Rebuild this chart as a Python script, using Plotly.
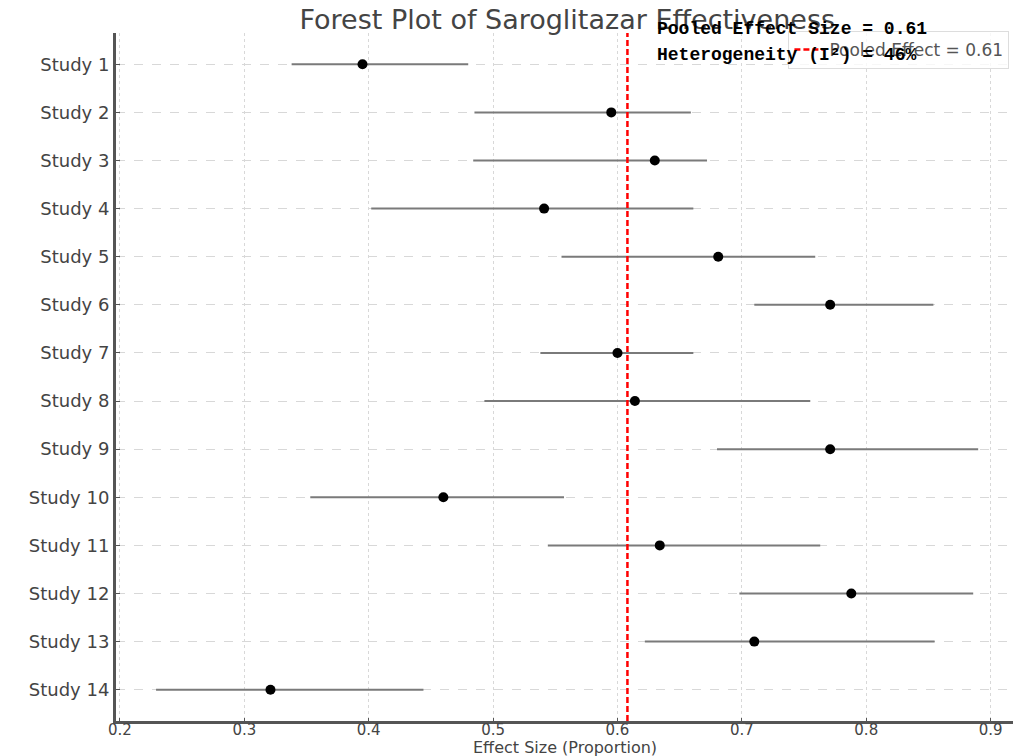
import plotly.graph_objects as go

studies = [f"Study {i}" for i in range(1, 15)]
effect = [0.395, 0.595, 0.630, 0.541, 0.681, 0.771, 0.600, 0.614, 0.771, 0.460, 0.634, 0.788, 0.710, 0.321]
ci_low = [0.338, 0.485, 0.484, 0.402, 0.555, 0.710, 0.538, 0.493, 0.680, 0.353, 0.544, 0.698, 0.622, 0.229]
ci_high = [0.480, 0.659, 0.672, 0.661, 0.759, 0.854, 0.661, 0.755, 0.890, 0.557, 0.763, 0.886, 0.855, 0.444]
pooled = 0.608
pooled_label = "0.61"
i2 = "46%"
x_ticks = [0.2, 0.3, 0.4, 0.5, 0.6, 0.7, 0.8, 0.9]

fig = go.Figure()
for s, lo, hi in zip(studies, ci_low, ci_high):
    fig.add_trace(go.Scatter(x=[lo, hi], y=[s, s], mode="lines",
                             line=dict(color="#7a7a7a", width=2), showlegend=False, hoverinfo="skip"))
fig.add_trace(go.Scatter(x=effect, y=studies, mode="markers",
                         marker=dict(color="black", size=10), showlegend=False))
fig.add_trace(go.Scatter(x=[pooled, pooled], y=[-0.65, 13.65], yaxis="y2", mode="lines",
                         line=dict(color="red", width=2.5, dash="6px,3px"),
                         name=f"Pooled Effect = {pooled_label}", showlegend=True))

fig.update_layout(
    width=1013, height=756,
    margin=dict(l=116, r=0, t=33, b=35),
    paper_bgcolor="white", plot_bgcolor="white",
    title=dict(text="Forest Plot of Saroglitazar Effectiveness", x=0.56, xanchor="center",
               y=0.9735, yanchor="middle", font=dict(family="DejaVu Sans", size=27, color="#444444")),
    xaxis=dict(range=[0.1968, 0.918], tickvals=x_ticks, ticktext=[f"{v:.1f}" for v in x_ticks],
               automargin=False,
               showgrid=True, gridcolor="#d8d8d8", griddash="dot", gridwidth=1,
               showline=True, linecolor="#555555", linewidth=2.5, mirror=False,
               ticks="inside", ticklen=3, tickcolor="#555555", ticklabelstandoff=-7,
               tickfont=dict(family="DejaVu Sans", size=15, color="#444444"),
               zeroline=False),
    yaxis=dict(categoryorder="array", categoryarray=studies, autorange=False, range=[13.65, -0.65],
               automargin=False,
               showgrid=True, gridcolor="#d8d8d8", griddash="dash", gridwidth=1,
               showline=True, linecolor="#555555", linewidth=3,
               ticks="inside", ticklen=4, tickcolor="#555555",
               tickfont=dict(family="DejaVu Sans", size=18, color="#444444"), zeroline=False),
    yaxis2=dict(overlaying="y", range=[-0.65, 13.65], visible=False, automargin=False),
    legend=dict(x=0.996, y=1.003, xanchor="right", yanchor="top", bgcolor="rgba(255,255,255,0.8)",
                bordercolor="#dddddd", borderwidth=1, tracegroupgap=0,
                font=dict(family="DejaVu Sans", size=17, color="#555555")),
)

fig.add_annotation(x=0.5, y=1 - (747 - 33) / 688, xref="paper", yref="paper", yanchor="middle",
                   xanchor="center", showarrow=False,
                   text="Effect Size (Proportion)",
                   font=dict(family="DejaVu Sans", size=16, color="#444444"))
fig.add_annotation(x=0.601, y=1.006, xref="paper", yref="paper", xanchor="left", yanchor="middle",
                   text=f"<b>Pooled Effect Size = {pooled_label}</b>", showarrow=False,
                   font=dict(family="Liberation Mono", size=18, color="black"))
fig.add_annotation(x=0.601, y=0.968, xref="paper", yref="paper", xanchor="left", yanchor="middle",
                   text=f"<b>Heterogeneity (I²) = {i2}</b>", showarrow=False,
                   font=dict(family="Liberation Mono", size=18, color="black"))

fig.write_html("out.html", config={"displayModeBar": False},
               post_script="document.body.style.margin='0';")
